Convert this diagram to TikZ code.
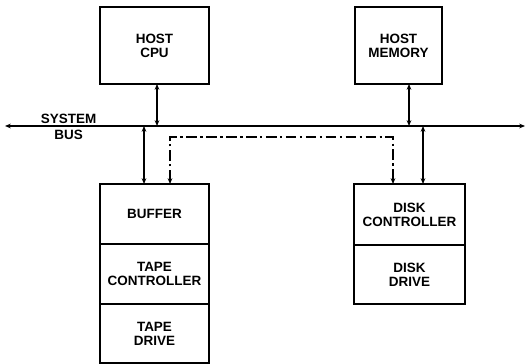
\documentclass[tikz,border=0pt]{standalone}
\usepackage{fontspec}
\setmainfont{Liberation Sans}
\usetikzlibrary{arrows.meta, positioning}

\begin{document}
\begin{tikzpicture}[>={Stealth[length=5pt,width=4pt]}, line width=0.9pt,
      blk/.style={draw, line width=1.3pt, minimum width=3.27cm, minimum height=1.8cm,
                  outer sep=0pt, inner sep=1pt, align=center,
                  font=\fontsize{11.5}{12}\selectfont\bfseries},
      lbl/.style={align=center, font=\fontsize{11.5}{12.5}\selectfont\bfseries},
      dma/.style={line width=1.1pt, dash pattern=on 9pt off 3pt on 2pt off 3pt}]

    \useasboundingbox (0,0) rectangle (15.9,-10.92);

    % === Host side ===
    \node[blk, minimum height=2.31cm] (cpu) at (4.635,-1.365) {HOST\\CPU};
    \node[blk, minimum height=2.31cm, minimum width=2.61cm] (mem) at (11.955,-1.365) {HOST\\MEMORY};

    % === System bus ===
    \coordinate (busL) at (0.15,-3.78);
    \coordinate (busR) at (15.75,-3.78);
    \draw[<->] (busL) -- (busR);
    \node[lbl] (sysbus) at (2.06,-3.81) {SYSTEM\\[1pt]BUS};

    % === Tape stack ===
    \node[blk] (buf) at (4.635,-6.42) {BUFFER};
    \node[blk, below=0pt of buf] (tctl) {TAPE\\CONTROLLER};
    \node[blk, below=0pt of tctl, minimum height=1.77cm] (tdrv) {TAPE\\DRIVE};

    % === Disk stack ===
    \node[blk, minimum width=3.33cm, minimum height=1.83cm] (dctl) at (12.285,-6.435) {DISK\\CONTROLLER};
    \node[blk, below=0pt of dctl, minimum width=3.33cm, minimum height=1.77cm] (ddrv) {DISK\\DRIVE};

    % === Bus links ===
    \draw[<->] ([xshift=0.075cm]cpu.south) -- ([xshift=0.075cm]cpu.south |- busL);
    \draw[<->] ([xshift=0.315cm]mem.south) -- ([xshift=0.315cm]mem.south |- busL);
    \draw[<->] ([xshift=-0.315cm]buf.north) -- ([xshift=-0.315cm]buf.north |- busL);
    \draw[<->] ([xshift=0.405cm]dctl.north) -- ([xshift=0.405cm]dctl.north |- busL);

    % === Direct transfer path ===
    \coordinate (dmaL) at ([xshift=0.465cm,yshift=-0.33cm]buf.north |- busL);
    \draw[dma, <->] ([xshift=0.465cm]buf.north) -- (dmaL) -| ([xshift=-0.495cm]dctl.north);

\end{tikzpicture}
\end{document}
